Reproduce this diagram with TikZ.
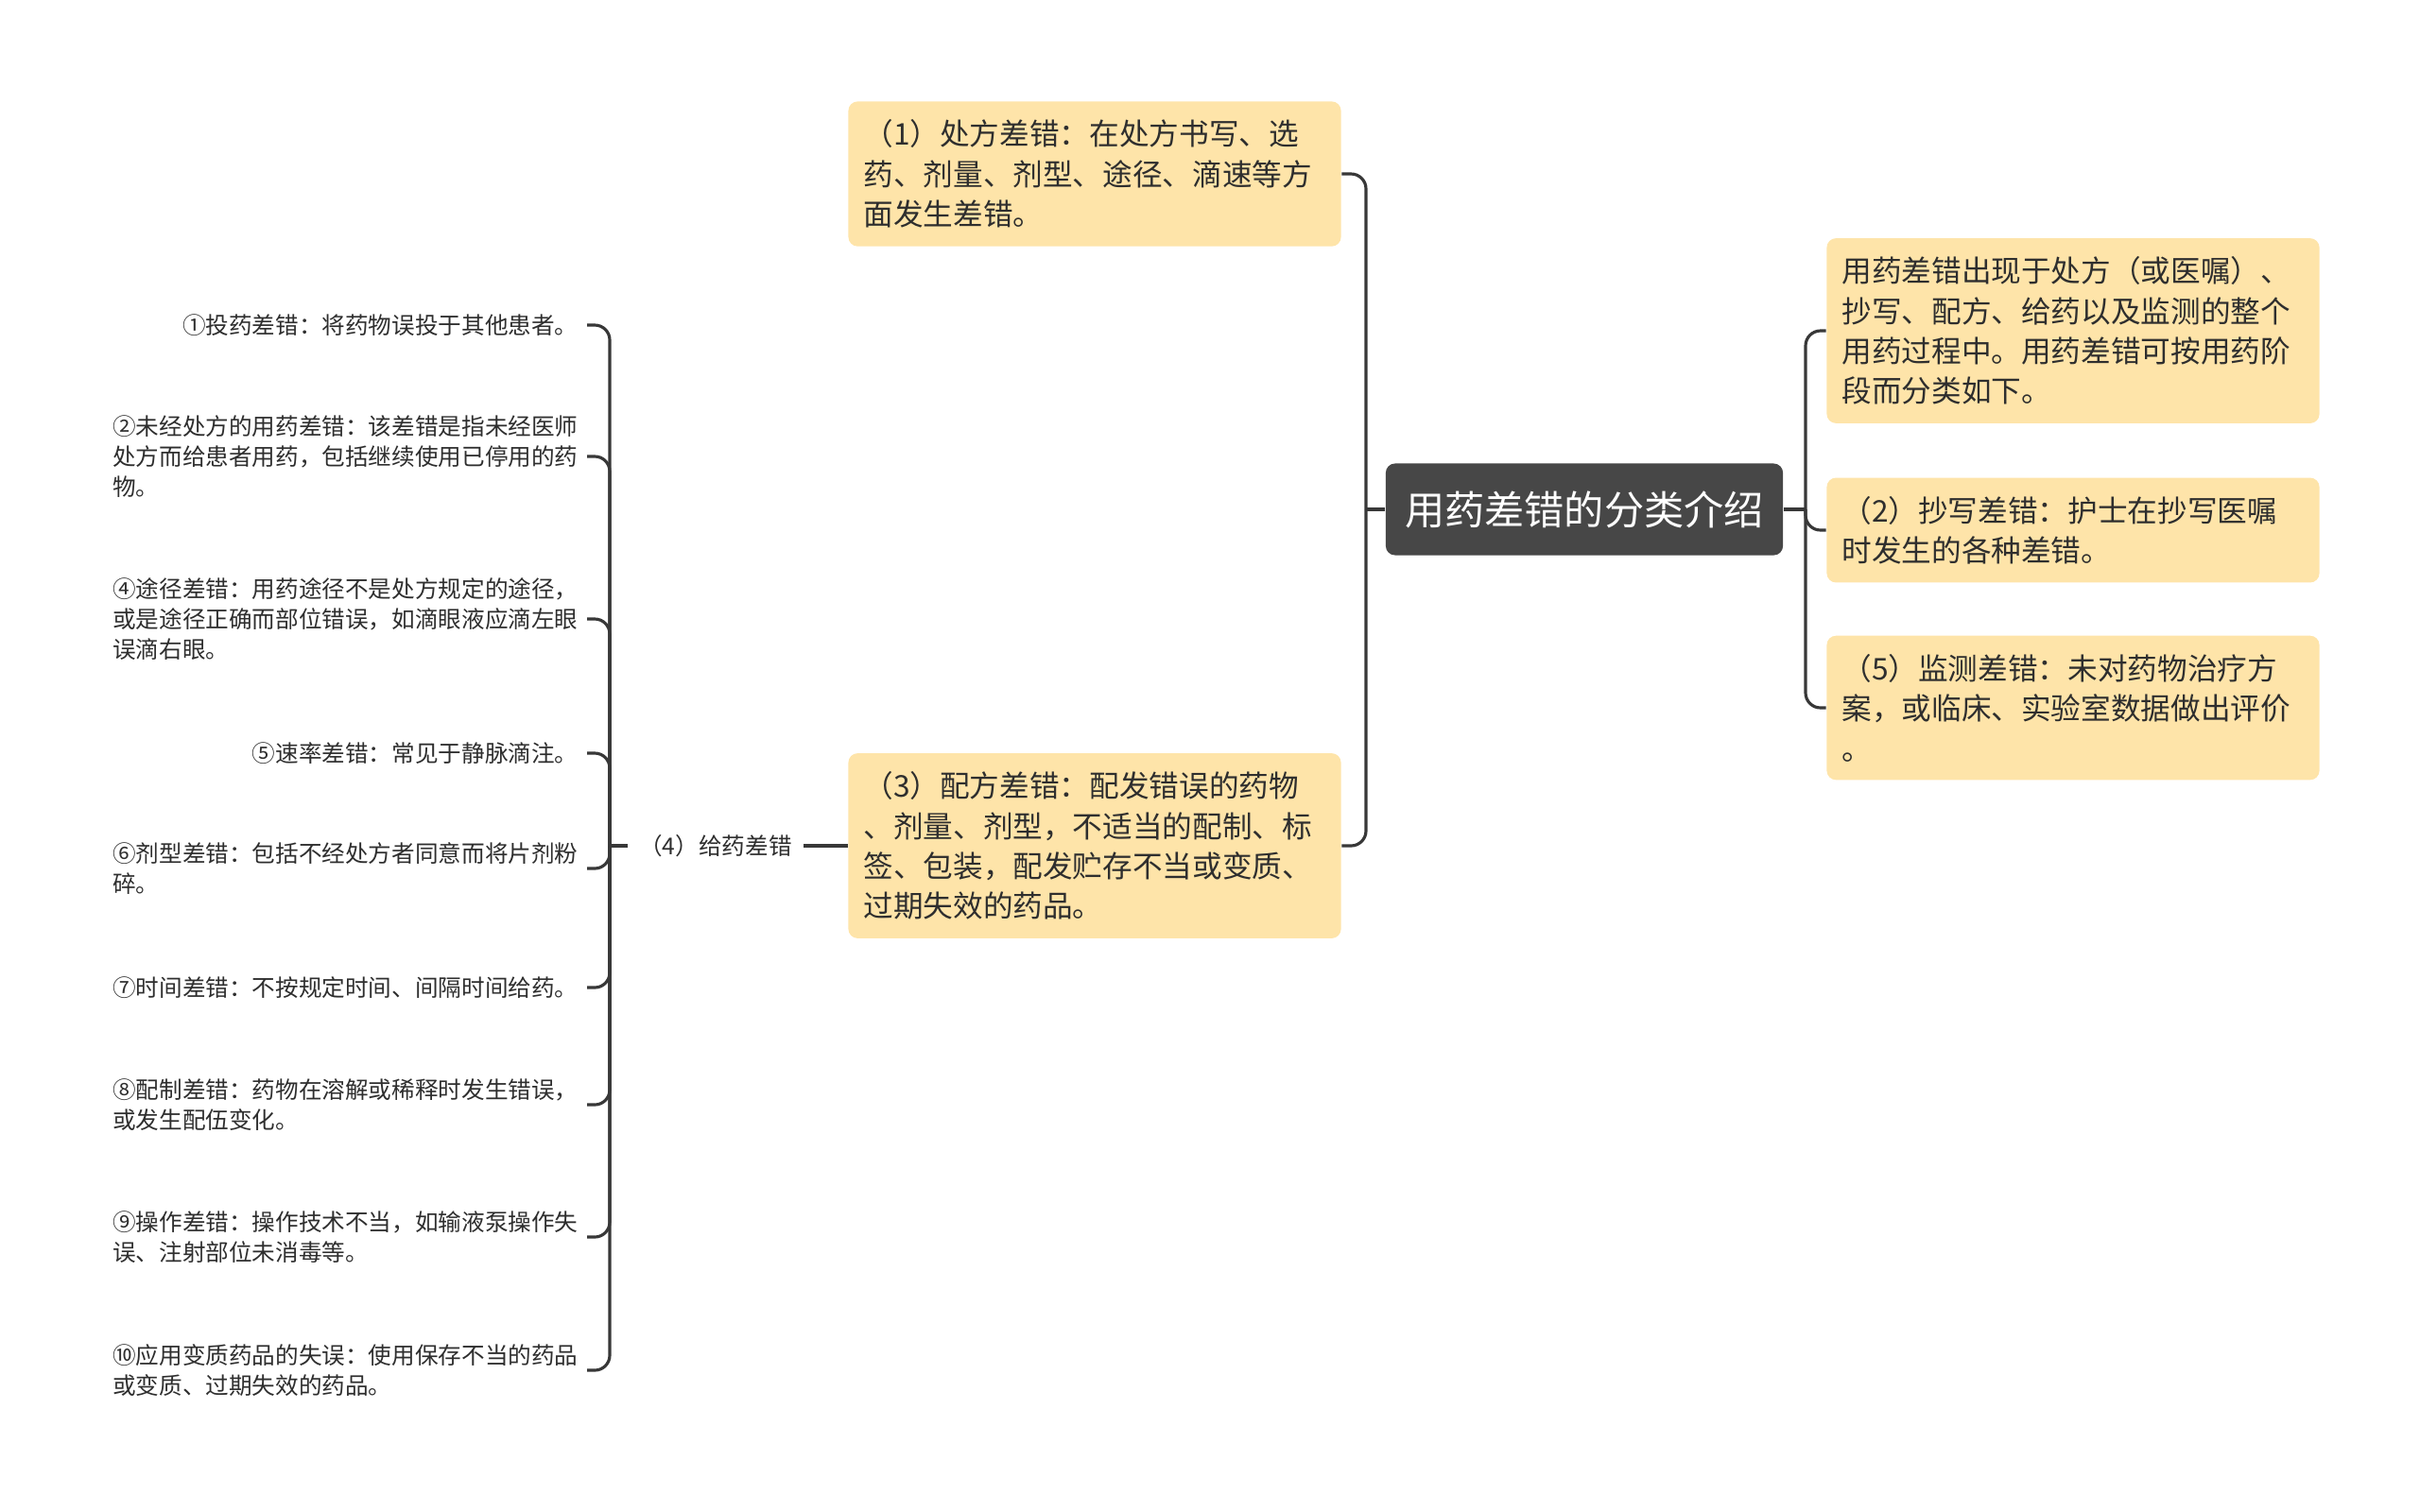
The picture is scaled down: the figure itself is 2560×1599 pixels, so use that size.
\documentclass[tikz,border=0pt]{standalone}
\usepackage{fontspec}
\setmainfont{Noto Sans CJK SC}
\definecolor{boxfill}{HTML}{FEE4A9}
\definecolor{rootfill}{HTML}{474747}
\definecolor{linecol}{HTML}{383838}
\definecolor{txt}{HTML}{2E2E2E}
\begin{document}
\begin{tikzpicture}[x=0.01cm,y=-0.01cm,
    root/.style={fill=rootfill,rounded corners=2.8pt,text=white,font=\fontsize{12}{14}\selectfont,minimum width=119.5pt,minimum height=27.6pt,inner sep=0pt},
    topic/.style={fill=boxfill,rounded corners=2.8pt,text=txt,font=\fontsize{9}{12.07}\selectfont,text width=139.1pt,align=left,inner xsep=4.55pt,inner ysep=5.5pt},
    item/.style={anchor=east,text=txt,font=\fontsize{7}{9.05}\selectfont,align=left,inner xsep=2.5pt,inner ysep=0pt},
    link/.style={draw=linecol,line width=0.9pt,rounded corners=4.5pt}]
  \useasboundingbox (0,0) rectangle (2560,1599);
  \node[root] (root) at (1676,539) {用药差错的分类介绍};
  \node[topic] (rx) at (1158,184) {（1）处方差错：在处方书写、选\\药、剂量、剂型、途径、滴速等方\\面发生差错。};
  \node[topic] (disp) at (1158,895) {（3）配方差错：配发错误的药物\\、剂量、剂型，不适当的配制、标\\签、包装，配发贮存不当或变质、\\过期失效的药品。};
  \node[topic] (intro) at (2193,350) {用药差错出现于处方（或医嘱）、\\抄写、配方、给药以及监测的整个\\用药过程中。用药差错可按用药阶\\段而分类如下。};
  \node[topic] (copy) at (2193,561) {（2）抄写差错：护士在抄写医嘱\\时发生的各种差错。};
  \node[topic] (mon) at (2193,749) {（5）监测差错：未对药物治疗方\\案，或临床、实验室数据做出评价\\。};
  \node[text=txt,font=\fontsize{7}{9.05}\selectfont,inner xsep=3.25pt] (give) at (757,895) {（4）给药差错};
  \node[item] (i1) at (621,344) {①投药差错：将药物误投于其他患者。};
  \node[item] (i2) at (621,483) {②未经处方的用药差错：该差错是指未经医师\\处方而给患者用药，包括继续使用已停用的药\\物。};
  \node[item] (i4) at (621,655) {④途径差错：用药途径不是处方规定的途径，\\或是途径正确而部位错误，如滴眼液应滴左眼\\误滴右眼。};
  \node[item] (i5) at (621,797) {⑤速率差错：常见于静脉滴注。};
  \node[item] (i6) at (621,919) {⑥剂型差错：包括不经处方者同意而将片剂粉\\碎。};
  \node[item] (i7) at (621,1045) {⑦时间差错：不按规定时间、间隔时间给药。};
  \node[item] (i8) at (621,1169) {⑧配制差错：药物在溶解或稀释时发生错误，\\或发生配伍变化。};
  \node[item] (i9) at (621,1309) {⑨操作差错：操作技术不当，如输液泵操作失\\误、注射部位未消毒等。};
  \node[item] (i10) at (621,1450) {⑩应用变质药品的失误：使用保存不当的药品\\或变质、过期失效的药品。};
  \coordinate (lt) at (1445,539);
  \coordinate (rt) at (1910,539);
  \coordinate (gt) at (645,895);
  \draw[link] (root.west) -- (lt);
  \draw[link] (lt) |- (rx.east);
  \draw[link] (lt) |- (disp.east);
  \draw[link] (root.east) -- (rt);
  \draw[link] (rt) |- (intro.west);
  \draw[link] (rt) |- (copy.west);
  \draw[link] (rt) |- (mon.west);
  \draw[link] (disp.west) -- (give.east);
  \draw[link] (give.west) -- (gt);
  \foreach \n in {i1,i2,i4,i5,i6,i7,i8,i9,i10}
    \draw[link] (gt) |- (\n.east);
\end{tikzpicture}
\end{document}
